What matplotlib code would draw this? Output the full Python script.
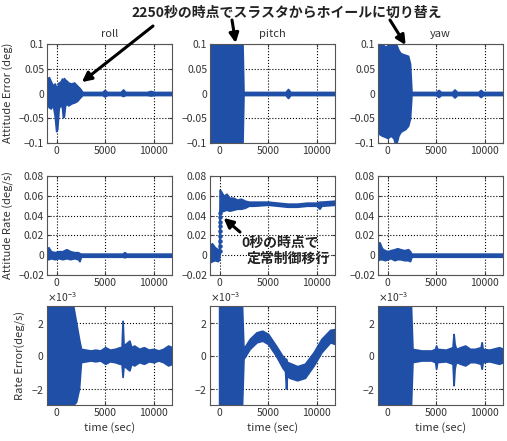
import numpy as np
import matplotlib
matplotlib.use("Agg")
import matplotlib.pyplot as plt
from matplotlib.ticker import ScalarFormatter

plt.rcParams['font.family'] = ['Noto Sans CJK JP', 'DejaVu Sans']
plt.rcParams['font.size'] = 7.5

BLUE = "#1f4fa6"
W, H = 507, 441

# --- 姿勢誤差 (deg): 上下包絡線 ---
roll_err_t  = [-1000, -800, -600, -400, -200, -50, 50, 200, 400, 550, 650, 750, 850, 1000, 1200, 1500, 1800, 2100, 2400, 2650, 4700, 4950, 5200, 6600, 6850, 7100, 9300, 9700, 10100, 11900]
roll_err_hi = [0.030, 0.033, 0.024, 0.016, 0.020, 0.012, 0.012, 0.022, 0.024, 0.030, 0.026, 0.031, 0.028, 0.026, 0.022, 0.020, 0.022, 0.016, 0.010, 0.003, 0.003, 0.007, 0.003, 0.003, 0.008, 0.003, 0.003, 0.005, 0.003, 0.003]
roll_err_lo = [-0.020, -0.028, -0.030, -0.022, -0.045, -0.076, -0.072, -0.030, -0.022, -0.028, -0.048, -0.045, -0.025, -0.020, -0.024, -0.020, -0.018, -0.015, -0.008, -0.003, -0.003, -0.006, -0.003, -0.003, -0.005, -0.003, -0.003, -0.004, -0.003, -0.003]

pitch_err_t  = [-1000, 2350, 2450, 6800, 7050, 7300, 11900]
pitch_err_hi = [0.1, 0.1, 0.003, 0.003, 0.009, 0.003, 0.003]
pitch_err_lo = [-0.1, -0.1, -0.003, -0.003, -0.009, -0.003, -0.003]

yaw_err_t  = [-1000, -600, -200, 0, 300, 600, 750, 900, 1100, 1300, 1500, 1800, 2100, 2300, 2450, 5000, 5250, 5500, 6650, 6900, 7150, 9350, 9600, 9850, 11900]
yaw_err_hi = [0.100, 0.100, 0.094, 0.098, 0.100, 0.100, 0.100, 0.098, 0.088, 0.082, 0.080, 0.078, 0.076, 0.060, 0.003, 0.003, 0.007, 0.003, 0.003, 0.008, 0.003, 0.003, 0.007, 0.003, 0.003]
yaw_err_lo = [-0.080, -0.085, -0.088, -0.090, -0.085, -0.090, -0.100, -0.100, -0.085, -0.078, -0.075, -0.072, -0.065, -0.050, -0.003, -0.003, -0.007, -0.003, -0.003, -0.008, -0.003, -0.003, -0.007, -0.003, -0.003]

# --- 姿勢レート (deg/s) ---
roll_rate_t  = [-1000, -850, -600, -200, 200, 600, 1000, 1400, 1800, 2200, 2350, 2500, 6800, 7000, 7200, 11900]
roll_rate_hi = [0.006, 0.008, 0.004, 0.003, 0.004, 0.004, 0.006, 0.004, 0.003, 0.003, 0.002, 0.0015, 0.0015, 0.003, 0.0015, 0.0015]
roll_rate_lo = [-0.004, -0.004, -0.003, -0.004, -0.003, -0.004, -0.003, -0.004, -0.003, -0.004, -0.006, -0.0015, -0.0015, -0.002, -0.0015, -0.0015]

pitch_rate_t  = [-1000, -800, -500, -200, -50, 0, 100, 400, 700, 1000, 1400, 1800, 2200, 2600, 3000, 3500, 5000, 6000, 7000, 8000, 9000, 10000, 10300, 10500, 11900]
pitch_rate_hi = [0.010, 0.012, 0.008, 0.006, 0.005, 0.066, 0.065, 0.060, 0.062, 0.058, 0.058, 0.056, 0.057, 0.055, 0.054, 0.054, 0.054, 0.053, 0.052, 0.052, 0.053, 0.053, 0.054, 0.054, 0.055]
pitch_rate_lo = [-0.007, -0.006, -0.005, -0.006, -0.004, 0.045, 0.044, 0.045, 0.046, 0.045, 0.046, 0.047, 0.047, 0.048, 0.050, 0.050, 0.051, 0.050, 0.049, 0.049, 0.050, 0.050, 0.047, 0.050, 0.051]
pitch_jump_t = [40, 40, 40, 40, 40, 40, 40, 40, 40]
pitch_jump_v = [0.004, 0.009, 0.014, 0.019, 0.024, 0.029, 0.034, 0.039, 0.043]

yaw_rate_t  = [-1000, -850, -600, -300, 0, 300, 700, 1000, 1300, 1700, 2100, 2300, 2450, 11900]
yaw_rate_hi = [0.010, 0.013, 0.007, 0.005, 0.004, 0.005, 0.006, 0.007, 0.006, 0.005, 0.006, 0.004, 0.0015, 0.0015]
yaw_rate_lo = [-0.005, -0.004, -0.004, -0.005, -0.004, -0.003, -0.005, -0.004, -0.004, -0.005, -0.005, -0.006, -0.0015, -0.0015]

# --- レート誤差 (×1e-3 deg/s) ---
roll_rerr_t  = [-1000, 1700, 2000, 2300, 2500, 3000, 3500, 4000, 4500, 5000, 5500, 6000, 6500, 6700, 6800, 6900, 7500, 7700, 8000, 8500, 9000, 9500, 10000, 10500, 11000, 11500, 11900]
roll_rerr_hi = [3.0, 3.0, 2.0, 1.0, 0.4, 0.35, 0.3, 0.35, 0.3, 0.5, 0.35, 0.4, 0.5, 0.5, 2.1, 0.6, 0.9, 0.5, 0.6, 0.4, 0.5, 0.35, 0.4, 0.3, 0.4, 0.6, 0.5]
roll_rerr_lo = [-3.0, -3.0, -2.8, -2.0, -0.4, -0.35, -0.3, -0.35, -0.3, -0.5, -0.35, -0.4, -0.5, -0.5, -1.3, -0.6, -0.9, -0.5, -0.6, -0.4, -0.5, -0.35, -0.4, -0.3, -0.4, -0.6, -0.5]

pitch_rerr_t  = [-50, 2300, 2450, 3100, 3800, 4400, 5000, 5800, 6500, 6750, 6850, 6950, 7200, 8000, 8800, 9700, 10500, 11400, 11900]
pitch_rerr_hi = [3.0, 3.0, 0.4, 1.0, 1.4, 1.5, 1.3, 0.6, -0.05, -0.2, -0.2, -0.4, -0.45, -0.65, -0.5, 0.2, 1.0, 1.55, 1.6]
pitch_rerr_lo = [-3.0, -3.0, -0.2, 0.4, 0.8, 0.9, 0.7, 0.0, -0.75, -0.95, -2.0, -1.2, -1.35, -1.5, -1.35, -0.6, 0.2, 0.8, 0.7]

yaw_rerr_t  = [-1000, 2200, 2400, 2550, 3500, 4500, 4900, 5000, 5100, 6000, 6700, 6800, 6900, 7000, 7100, 7500, 8000, 8500, 9000, 9600, 9700, 9800, 10500, 11500, 11900]
yaw_rerr_hi = [3.0, 3.0, 3.0, 0.4, 0.3, 0.3, 0.4, 0.6, 0.4, 0.35, 0.5, 1.3, 0.7, 0.5, 0.4, 0.5, 0.6, 0.4, 0.4, 0.5, 0.8, 0.4, 0.35, 0.5, 0.4]
yaw_rerr_lo = [-3.0, -3.0, -3.0, -0.4, -0.3, -0.3, -0.4, -0.8, -0.4, -0.35, -0.5, -1.8, -0.8, -0.5, -0.4, -0.5, -0.6, -0.4, -0.4, -0.5, -0.8, -0.4, -0.35, -0.5, -0.4]

axis_names = ["roll", "pitch", "yaw"]
row_labels = ["Attitude Error (deg)", "Attitude Rate (deg/s)", "Rate Error(deg/s)"]
row1_ticks = [-0.1, -0.05, 0, 0.05, 0.1]
row1_tlab = ["\u22120.1", "\u22120.05", "0", "0.05", "0.1"]
row2_ticks = [-0.02, 0, 0.02, 0.04, 0.06, 0.08]
row2_tlab = ["\u22120.02", "0", "0.02", "0.04", "0.06", "0.08"]
row3_ticks = [-2e-3, 0, 2e-3]

panels = [
    [(roll_err_t, roll_err_hi, roll_err_lo, 1), (pitch_err_t, pitch_err_hi, pitch_err_lo, 1), (yaw_err_t, yaw_err_hi, yaw_err_lo, 1)],
    [(roll_rate_t, roll_rate_hi, roll_rate_lo, 1), (pitch_rate_t, pitch_rate_hi, pitch_rate_lo, 1), (yaw_rate_t, yaw_rate_hi, yaw_rate_lo, 1)],
    [(roll_rerr_t, roll_rerr_hi, roll_rerr_lo, 1e-3), (pitch_rerr_t, pitch_rerr_hi, pitch_rerr_lo, 1e-3), (yaw_rerr_t, yaw_rerr_hi, yaw_rerr_lo, 1e-3)],
]

fig = plt.figure(figsize=(W/100, H/100), dpi=100)
lefts = [47, 210, 378]; tops = [44, 176, 306]; aw, ah = 125, 99
axs = [[None]*3 for _ in range(3)]
for r in range(3):
    for c in range(3):
        ax = fig.add_axes([lefts[c]/W, (H - tops[r] - ah)/H, aw/W, ah/H])
        ax.set_axisbelow(True)
        t, hi, lo, sc = panels[r][c]
        ax.fill_between(t, np.array(lo)*sc, np.array(hi)*sc, color=BLUE, lw=1.3, edgecolor=BLUE)
        ax.set_xlim(-1000, 11900)
        ax.set_xticks([0, 5000, 10000])
        if r == 0:
            ax.set_ylim(-0.1, 0.1); ax.set_yticks(row1_ticks, row1_tlab)
            ax.set_title(axis_names[c], fontsize=8, pad=5, color="#333333")
        elif r == 1:
            ax.set_ylim(-0.02, 0.08); ax.set_yticks(row2_ticks, row2_tlab)
        else:
            ax.set_ylim(-3e-3, 3e-3); ax.set_yticks(row3_ticks)
            fmt = ScalarFormatter(useMathText=True); fmt.set_powerlimits((-2, 2))
            ax.yaxis.set_major_formatter(fmt)
            ax.set_xlabel("time (sec)", fontsize=8, labelpad=3, color="#333333")
        ax.grid(True, color="black", ls=":", lw=0.8)
        ax.tick_params(direction="in", length=2.5, pad=2, labelsize=7.5, colors="#333333", top=True, right=True)
        for s in ax.spines.values():
            s.set_color("#555555"); s.set_linewidth(0.8)
        axs[r][c] = ax

axs[1][1].scatter(pitch_jump_t, pitch_jump_v, s=5, color=BLUE, zorder=3)

fig.text(8/W, 1 - 93/H, row_labels[0], rotation=90, ha="center", va="center", fontsize=8, color="#333333")
fig.text(8/W, 1 - 225/H, row_labels[1], rotation=90, ha="center", va="center", fontsize=8, color="#333333")
fig.text(20/W, 1 - 356/H, row_labels[2], rotation=90, ha="center", va="center", fontsize=8, color="#333333")

# 注記
fig.text(287/W, 1 - 13/H, "2250秒の時点でスラスタからホイールに切り替え", ha="center", va="center",
         fontsize=10, fontweight="bold", style="italic", color="#222222")
aprops = dict(arrowstyle="-|>", color="black", lw=2.2, mutation_scale=14, shrinkA=0, shrinkB=0)
axs[0][0].annotate("", xy=(2600, 0.023), xycoords="data", xytext=(153, H - 26), textcoords="figure pixels",
                   arrowprops=aprops, annotation_clip=False)
axs[0][1].annotate("", xy=(1650, 0.102), xycoords="data", xytext=(232, H - 20), textcoords="figure pixels",
                   arrowprops=aprops, annotation_clip=False)
axs[0][2].annotate("", xy=(1850, 0.098), xycoords="data", xytext=(390, H - 20), textcoords="figure pixels",
                   arrowprops=aprops, annotation_clip=False)

fig.text(280/W, 1 - 243/H, "0秒の時点で", ha="center", va="center", fontsize=10, fontweight="bold",
         style="italic", color="#222222")
fig.text(288/W, 1 - 259/H, "定常制御移行", ha="center", va="center", fontsize=10, fontweight="bold",
         style="italic", color="#222222")
axs[1][1].annotate("", xy=(410, 0.0376), xycoords="data", xytext=(240, H - 232), textcoords="figure pixels",
                   arrowprops=aprops, annotation_clip=False)

fig.savefig("out.png", dpi=100)
